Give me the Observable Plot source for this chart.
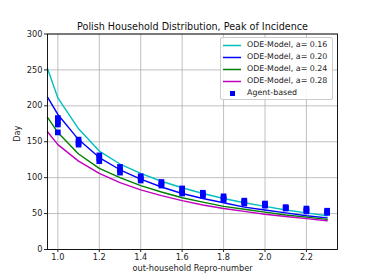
<!DOCTYPE html>
<html><head><meta charset="utf-8">
<script src="https://cdn.jsdelivr.net/npm/d3@7"></script>
<script src="https://cdn.jsdelivr.net/npm/@observablehq/plot@0.6"></script>
<style>
body{margin:0;background:#fff;font-family:"DejaVu Sans",sans-serif;}
#wrap{position:relative;width:374px;height:280px;}
.leg{position:absolute;left:220px;top:37px;width:111px;height:61px;background:rgba(255,255,255,0.85);border:1px solid #cccccc;border-radius:2px;font-size:7.9px;color:#222;}
.row{position:absolute;left:0;height:12px;line-height:12px;white-space:nowrap;}
.sw{position:absolute;left:2px;top:0;}
.lab{position:absolute;left:26px;top:0;}
</style></head><body>
<div id="wrap"></div>
<script>
const title = "Polish Household Distribution, Peak of Incidence";
const xLabel = "out-household Repro-number";
const yLabel = "Day";
const xTicks = [1.0, 1.2, 1.4, 1.6, 1.8, 2.0, 2.2];
const yTicks = [0, 50, 100, 150, 200, 250, 300];

const odeR = [0.95, 1.0, 1.1, 1.2, 1.3, 1.4, 1.5, 1.6, 1.7, 1.8, 1.9, 2.0, 2.1, 2.2, 2.3];
const ode016 = [252, 211, 168, 137, 119, 106, 95, 86, 78, 71, 65, 60, 55, 51, 47];
const ode020 = [212, 188, 153, 128, 111, 98, 87, 78, 71, 65, 59, 55, 51, 47, 44];
const ode024 = [184, 163, 133, 113, 100, 89, 80, 72, 66, 60, 56, 52, 48, 45, 42];
const ode028 = [164, 146, 123, 106, 93, 83, 75, 68, 62, 57, 53, 49, 46, 43, 40];
const seriesNames = ["ODE-Model, a= 0.16", "ODE-Model, a= 0.20", "ODE-Model, a= 0.24", "ODE-Model, a= 0.28"];
const seriesColors = ["#00bfbf", "#0000ff", "#008000", "#bf00bf"];

const agentR =   [1.0, 1.0, 1.0, 1.0, 1.1, 1.1, 1.1, 1.2, 1.2, 1.2, 1.3, 1.3, 1.3, 1.4, 1.4, 1.4, 1.5, 1.5, 1.5, 1.6, 1.6, 1.6, 1.7, 1.7, 1.7, 1.8, 1.8, 1.8, 1.9, 1.9, 1.9, 2.0, 2.0, 2.0, 2.1, 2.1, 2.1, 2.2, 2.2, 2.2, 2.3, 2.3, 2.3];
const agentDay = [183, 178, 174, 163, 153, 149, 146, 131, 127, 123, 115, 111, 107, 102, 99, 96, 94, 91, 89, 85, 81, 78, 79, 77, 75, 74, 71, 69, 68, 66, 64, 64, 62, 61, 59, 58, 57, 57, 55, 53, 54, 52, 51];
const agentName = "Agent-based";

const odeData = [];
[ode016, ode020, ode024, ode028].forEach((arr, k) => arr.forEach((v, i) => odeData.push({r: odeR[i], day: v, s: seriesNames[k]})));
const agentData = agentR.map((r, i) => ({r, day: agentDay[i]}));

const chart = Plot.plot({
  width: 374, height: 280,
  marginLeft: 47, marginRight: 37, marginTop: 33.5, marginBottom: 31,
  style: {fontFamily: "DejaVu Sans, sans-serif", fontSize: "8.2px", color: "#222", background: "#fff"},
  x: {domain: [0.95, 2.35], ticks: xTicks, tickFormat: d3.format(".1f"), label: null},
  y: {domain: [0, 300], ticks: yTicks, label: null},
  color: {domain: seriesNames, range: seriesColors},
  marks: [
    Plot.gridX(xTicks, {stroke: "#b0b0b0", strokeOpacity: 1, strokeWidth: 0.8}),
    Plot.gridY(yTicks, {stroke: "#b0b0b0", strokeOpacity: 1, strokeWidth: 0.8}),
    Plot.line(odeData, {x: "r", y: "day", z: "s", stroke: "s", strokeWidth: 1.4}),
    Plot.dot(agentData, {x: "r", y: "day", symbol: "square", r: 3.2, fill: "#0000ff", stroke: null}),
    Plot.frame({stroke: "#000", strokeWidth: 0.9}),
    Plot.axisX(xTicks, {tickSize: 3, tickPadding: 1.5, tickFormat: d3.format(".1f"), label: null}),
    Plot.axisY(yTicks, {tickSize: 3, tickPadding: 2, label: null}),
    Plot.text([title], {frameAnchor: "top", dy: -10.5, fontSize: 9.6, fill: "#111"}),
    Plot.text([xLabel], {frameAnchor: "bottom", dy: 21, fontSize: 8.2, fill: "#222"}),
    Plot.text([yLabel], {frameAnchor: "left", dx: -30, rotate: -90, fontSize: 8.2, fill: "#222"})
  ]
});
const wrap = document.getElementById("wrap");
wrap.appendChild(chart);

const leg = document.createElement("div");
leg.className = "leg";
seriesNames.forEach((n, i) => {
  const row = document.createElement("div");
  row.className = "row"; row.style.top = (1 + i * 12) + "px";
  row.innerHTML = `<svg class="sw" width="20" height="12"><line x1="0" x2="18" y1="6.5" y2="6.5" stroke="${seriesColors[i]}" stroke-width="1.5"/></svg><div class="lab">${n}</div>`;
  leg.appendChild(row);
});
const row = document.createElement("div");
row.className = "row"; row.style.top = (1 + 4 * 12) + "px";
row.innerHTML = `<svg class="sw" width="20" height="12"><rect x="7" y="4" width="5" height="5" fill="#0000ff"/></svg><div class="lab">${agentName}</div>`;
leg.appendChild(row);
wrap.appendChild(leg);
</script>
</body></html>
